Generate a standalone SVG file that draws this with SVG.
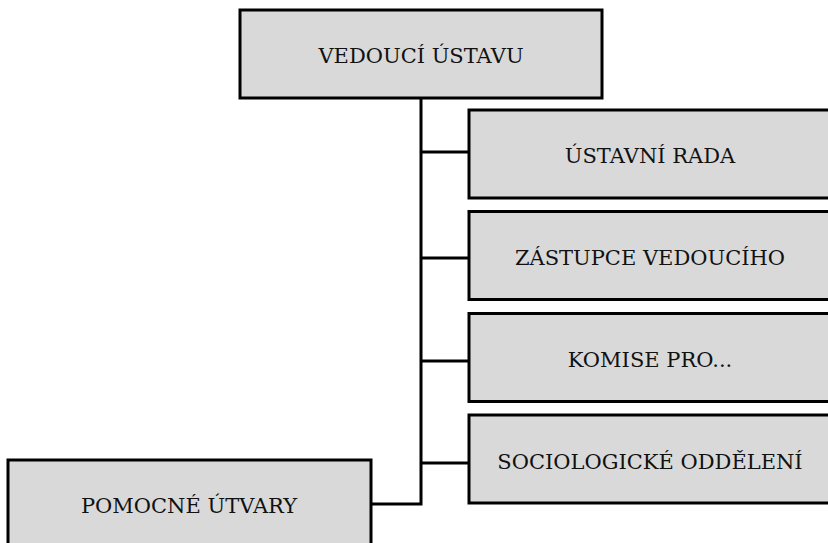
<svg xmlns="http://www.w3.org/2000/svg" width="828" height="543" viewBox="0 0 828 543">
<style>
.box{fill:#d9d9d9;stroke:#000;stroke-width:3}
.lbl{font-family:"DejaVu Serif","Liberation Serif",serif;font-size:21px;fill:#111;text-anchor:middle}
.conn{fill:none;stroke:#000;stroke-width:3}
</style>
<rect width="828" height="543" fill="#fff"/>
<g id="connectors">
<path class="conn" d="M421,98 V504 H371"/>
<path class="conn" d="M421,152 H469"/>
<path class="conn" d="M421,258 H469"/>
<path class="conn" d="M421,361 H469"/>
<path class="conn" d="M421,463 H469"/>
</g>
<g id="vedouci">
<rect class="box" x="240" y="10" width="362" height="88"/>
<text class="lbl" x="421" y="63">VEDOUCÍ ÚSTAVU</text>
</g>
<g id="ustavni-rada">
<rect class="box" x="469" y="110" width="362" height="88"/>
<text class="lbl" x="650" y="163">ÚSTAVNÍ RADA</text>
</g>
<g id="zastupce">
<rect class="box" x="469" y="211.5" width="362" height="88"/>
<text class="lbl" x="650" y="265">ZÁSTUPCE VEDOUCÍHO</text>
</g>
<g id="komise">
<rect class="box" x="469" y="313.5" width="362" height="88"/>
<text class="lbl" x="650" y="367">KOMISE PRO...</text>
</g>
<g id="sociologicke">
<rect class="box" x="469" y="415" width="362" height="88"/>
<text class="lbl" x="650" y="469">SOCIOLOGICKÉ ODDĚLENÍ</text>
</g>
<g id="pomocne">
<rect class="box" x="8" y="460" width="363" height="88"/>
<text class="lbl" x="189" y="513">POMOCNÉ ÚTVARY</text>
</g>
</svg>
